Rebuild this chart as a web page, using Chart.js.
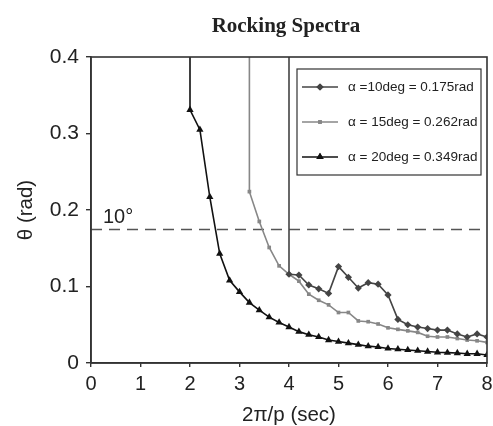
<!DOCTYPE html>
<html>
<head>
<meta charset="utf-8">
<script src="https://cdn.jsdelivr.net/npm/chart.js@4/dist/chart.umd.min.js"></script>
<style>
html,body{margin:0;padding:0;background:#fff;}
#wrap{width:493px;height:426px;}
</style>
</head>
<body>
<div id="wrap"><canvas id="c" width="493" height="426"></canvas></div>
<script>
// ---- data ----
const chartTitle = "Rocking Spectra";
const xTitle = "2\u03c0/p (sec)";
const yTitle = "\u03b8 (rad)";
const seriesLabels = ["\u03b1 =10deg = 0.175rad", "\u03b1 = 15deg = 0.262rad", "\u03b1 = 20deg = 0.349rad"];

const x10 = [4.0,4.2,4.4,4.6,4.8,5.0,5.2,5.4,5.6,5.8,6.0,6.2,6.4,6.6,6.8,7.0,7.2,7.4,7.6,7.8,8.0];
const y10 = [0.116,0.115,0.102,0.097,0.091,0.126,0.112,0.098,0.105,0.103,0.089,0.057,0.050,0.047,0.045,0.043,0.043,0.038,0.034,0.038,0.034];

const x15 = [3.2,3.4,3.6,3.8,4.0,4.2,4.4,4.6,4.8,5.0,5.2,5.4,5.6,5.8,6.0,6.2,6.4,6.6,6.8,7.0,7.2,7.4,7.6,7.8,8.0];
const y15 = [0.224,0.185,0.151,0.127,0.116,0.107,0.090,0.082,0.076,0.066,0.066,0.055,0.054,0.051,0.046,0.044,0.042,0.040,0.035,0.034,0.034,0.032,0.030,0.029,0.027];

const x20 = [2.0,2.2,2.4,2.6,2.8,3.0,3.2,3.4,3.6,3.8,4.0,4.2,4.4,4.6,4.8,5.0,5.2,5.4,5.6,5.8,6.0,6.2,6.4,6.6,6.8,7.0,7.2,7.4,7.6,7.8,8.0];
const y20 = [0.331,0.305,0.217,0.143,0.108,0.093,0.079,0.069,0.060,0.053,0.047,0.041,0.037,0.034,0.030,0.028,0.026,0.024,0.022,0.021,0.019,0.018,0.017,0.016,0.015,0.014,0.0135,0.013,0.012,0.012,0.0105];

// each curve rises off the top of the plot at its first period
const offScaleY = 0.5;

const xTicks = [0,1,2,3,4,5,6,7,8];
const yTicks = [0,0.1,0.2,0.3,0.4];
const refLineValue = 0.1745;   // 10 degrees in rad
const refLineLabel = "10\u00b0";

function build(xs, ys){
  const pts = [{x: xs[0], y: offScaleY}];
  xs.forEach((x,i)=>pts.push({x:x, y:ys[i]}));
  return pts;
}

const styles = [
  {color:'#444444', pointStyle:'rectRot', radius:3.6, width:1.6},
  {color:'#878787', pointStyle:'rect', radius:2.6, width:1.6},
  {color:'#111111', pointStyle:'triangle', radius:4.2, width:1.6}
];
const seriesData = [build(x10,y10), build(x15,y15), build(x20,y20)];

const datasets = seriesData.map((d,i)=>({
  label: seriesLabels[i],
  data: d,
  showLine: true,
  borderColor: styles[i].color,
  backgroundColor: styles[i].color,
  borderWidth: styles[i].width,
  pointStyle: styles[i].pointStyle,
  pointRadius: ctx => ctx.dataIndex === 0 ? 0 : styles[i].radius,
  pointBorderWidth: 0,
  tension: 0
}));

const FONT = "'Liberation Sans', Arial, sans-serif";

const decor = {
  id: 'decor',
  beforeDatasetsDraw(chart){
    const {ctx, chartArea:a, scales} = chart;
    const y = scales.y.getPixelForValue(refLineValue);
    ctx.save();
    ctx.strokeStyle = '#555';
    ctx.lineWidth = 1.4;
    ctx.setLineDash([11,7]);
    ctx.beginPath();
    ctx.moveTo(a.left, y); ctx.lineTo(a.right, y);
    ctx.stroke();
    ctx.setLineDash([]);
    ctx.fillStyle = '#222';
    ctx.font = "20px " + FONT;
    ctx.textBaseline = 'alphabetic';
    ctx.textAlign = 'left';
    ctx.fillText(refLineLabel, scales.x.getPixelForValue(0.24), y - 7);
    ctx.restore();
  },
  afterDraw(chart){
    const {ctx, chartArea:a} = chart;
    ctx.save();
    // frame
    ctx.strokeStyle = '#333';
    ctx.lineWidth = 1.6;
    ctx.strokeRect(a.left, a.top, a.right - a.left, a.bottom - a.top);
    // title
    ctx.fillStyle = '#222';
    ctx.font = "bold 21px 'Liberation Serif', 'Times New Roman', serif";
    ctx.textAlign = 'center';
    ctx.textBaseline = 'alphabetic';
    ctx.fillText(chartTitle, (a.left + a.right)/2 - 3, 32);
    // legend
    const bx = 297, by = 69, bw = 184, bh = 106;
    ctx.lineWidth = 1.2;
    ctx.strokeStyle = '#333';
    ctx.strokeRect(bx, by, bw, bh);
    ctx.font = "13.5px " + FONT;
    ctx.textAlign = 'left';
    ctx.textBaseline = 'middle';
    const rows = [87, 122, 157];
    chart.data.datasets.forEach((ds,i)=>{
      const yy = rows[i];
      ctx.strokeStyle = styles[i].color;
      ctx.lineWidth = styles[i].width;
      ctx.beginPath(); ctx.moveTo(302, yy); ctx.lineTo(338, yy); ctx.stroke();
      ctx.fillStyle = styles[i].color;
      Chart.helpers.drawPoint(ctx, {pointStyle: styles[i].pointStyle, radius: styles[i].radius, borderWidth: 0, rotation: 0}, 320, yy);
      ctx.fill();
      ctx.fillStyle = '#222';
      ctx.fillText(ds.label, 348, yy);
    });
    ctx.restore();
  }
};

new Chart(document.getElementById('c'), {
  type: 'scatter',
  data: {datasets},
  options: {
    responsive: false,
    animation: false,
    devicePixelRatio: 1,
    layout: {padding: {top: 57, right: 6, left: 0, bottom: 0}},
    plugins: {legend: {display: false}, title: {display: false}, tooltip: {enabled: false}},
    scales: {
      x: {
        type: 'linear', min: 0, max: 8,
        afterFit: s => { s.height = 63; s.paddingLeft = 0; s.paddingRight = 0; },
        afterBuildTicks: s => { s.ticks = xTicks.map(v => ({value: v})); },
        grid: {display: true, drawOnChartArea: false, drawTicks: true, tickLength: 4, color: '#333', lineWidth: 1.4},
        border: {display: true, color: '#333', width: 1.6},
        ticks: {color: '#222', font: {family: FONT, size: 20}, padding: 5, maxRotation: 0, callback: v => String(v)},
        title: {display: true, text: xTitle, color: '#222', font: {family: FONT, size: 20.5, lineHeight: 1}, padding: {top: 0, bottom: 0}}
      },
      y: {
        type: 'linear', min: 0, max: 0.4,
        afterFit: s => { s.width = 91; s.paddingTop = 0; s.paddingBottom = 0; },
        afterBuildTicks: s => { s.ticks = yTicks.map(v => ({value: v})); },
        grid: {display: true, drawOnChartArea: false, drawTicks: true, tickLength: 5, color: '#333', lineWidth: 1.4},
        border: {display: true, color: '#333', width: 1.6},
        ticks: {color: '#222', font: {family: FONT, size: 21}, padding: 7, callback: v => String(v)},
        title: {display: true, text: yTitle, color: '#222', font: {family: FONT, size: 20.5, lineHeight: 1}, padding: {top: 16, bottom: 0}}
      }
    }
  },
  plugins: [decor]
});
</script>
</body>
</html>
